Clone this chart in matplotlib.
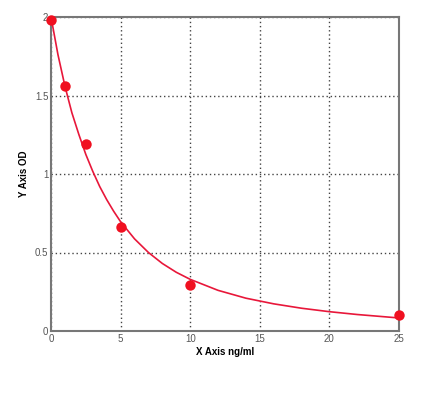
import matplotlib
matplotlib.use("Agg")
import matplotlib.pyplot as plt

# standard points
conc = [0, 1, 2.5, 5, 10, 25]
od = [1.98, 1.56, 1.19, 0.665, 0.29, 0.10]

# fitted curve
curve_x = [0, 0.5, 1, 1.5, 2, 2.5, 3, 3.5, 4, 4.5, 5, 6, 7, 8, 9, 10, 12, 14,
           16, 18, 20, 22, 25]
curve_y = [2.0, 1.76, 1.56, 1.39, 1.252, 1.125, 1.017, 0.92, 0.837, 0.763, 0.696,
           0.587, 0.50, 0.43, 0.374, 0.329, 0.259, 0.209, 0.173, 0.145, 0.123, 0.105, 0.083]

xticks = [0, 5, 10, 15, 20, 25]
yticks = [0, 0.5, 1, 1.5, 2]
ytick_labels = ["0", "0.5", "1", "1.5", "2"]

plt.rcParams['font.family'] = ['Liberation Sans', 'DejaVu Sans']

fig = plt.figure(figsize=(4.21, 3.97), dpi=100)
ax = fig.add_axes([51/421, 1 - 331/397, 348/421, (331 - 17)/397])

ax.plot(curve_x, curve_y, color="#e8173a", lw=1.2, zorder=3)
ax.plot(conc, od, "o", color="#f01020", markersize=7.5, markeredgewidth=0, zorder=4,
        clip_on=False)

ax.set_xlim(0, 25)
ax.set_ylim(0, 2.0)
ax.set_xticks(xticks)
ax.set_yticks(yticks)
ax.set_yticklabels(ytick_labels)
ax.grid(True, linestyle=(0, (1, 2)), color="#444444", linewidth=1.0)
ax.tick_params(direction="in", length=0, labelsize=7, colors="#555555", pad=2)
for s in ax.spines.values():
    s.set_color("#777777")
    s.set_linewidth(1.5)

ax.set_xlabel("X Axis ng/ml", fontsize=7, fontweight="bold", labelpad=2)
ax.set_ylabel("Y Axis OD", fontsize=7, fontweight="bold", labelpad=4)

fig.savefig("out.png", dpi=100)
